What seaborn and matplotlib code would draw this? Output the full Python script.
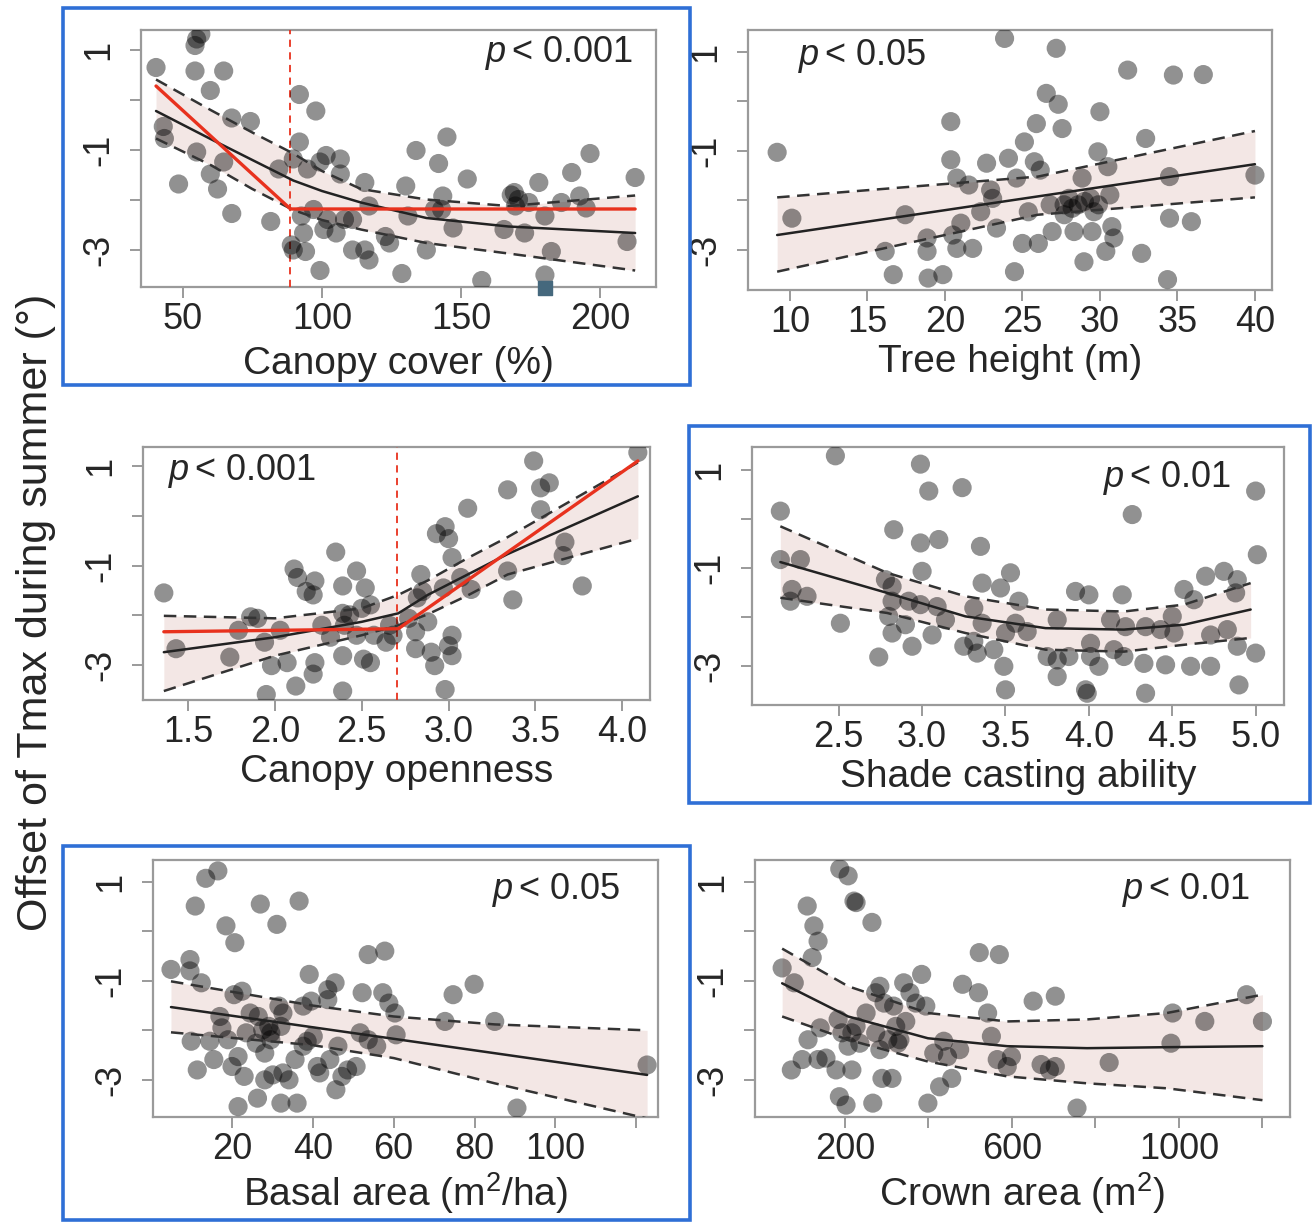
import numpy as np
import pandas as pd
import matplotlib
matplotlib.use("Agg")
import matplotlib.pyplot as plt
from matplotlib.patches import Rectangle
import seaborn as sns

sns.set_style("white")
plt.rcParams['font.family'] = ['Liberation Sans', 'DejaVu Sans']
plt.rcParams['mathtext.fontset'] = 'custom'
plt.rcParams['mathtext.rm'] = 'Liberation Sans'
plt.rcParams['mathtext.it'] = 'Liberation Sans:italic'

# ---------------- data ----------------
# Panel 1: canopy cover
cc_x = [40.4, 55, 56.5, 54.4, 54.4, 64.7, 59.9, 43, 43.4, 67.6, 74.3, 55, 64.7, 48.5, 59.9,
        62.5, 67.6, 81.6, 84.5, 91.9, 97.8, 91.9, 89.7, 94.8, 99.3, 101.5, 106.6, 106.6, 115.4,
        92.6, 97, 93.4, 89, 89.7, 94.1, 99.3, 100.7, 105.1, 111, 111, 115.4, 116.9, 116.9, 122.8,
        124.3, 128.7, 130.1, 130.9, 133.8, 137.5, 143.4, 140.4, 141.9, 144.9, 147.1, 152.2, 157.4,
        165.4, 169.1, 170.6, 172.8, 174.3, 177.9, 180.1, 182.4, 180.1, 186, 189.7, 192.6, 194.9,
        196.3, 212.5, 209.6, 168, 169.5, 108.1, 102, 143]
cc_y = [0.65, 1.22, 1.32, 1.09, 0.58, 0.58, 0.19, -0.53, -0.77, -0.36, -0.43, -1.04, -1.24, -1.68,
        -1.48, -1.78, -2.27, -2.43, -1.38, 0.11, -0.22, -0.84, -1.18, -1.38, -1.24, -1.11, -1.18,
        -1.48, -1.65, -2.32, -2.19, -2.66, -2.9, -3.0, -3.03, -3.41, -2.59, -2.66, -2.39, -3.0, -3.0,
        -3.2, -2.12, -2.73, -2.86, -3.47, -1.72, -2.32, -1.01, -3.0, -1.92, -2.19, -1.27, -0.74,
        -2.56, -1.58, -3.61, -2.59, -1.85, -1.99, -2.66, -2.05, -1.65, -2.32, -3.03, -3.5, -2.05,
        -1.45, -1.92, -2.16, -1.07, -1.55, -2.83, -1.9, -2.12, -2.39, -2.39, -2.19]
cc_fit_x = [40.4, 60, 75, 89.7, 100, 114, 137.5, 167, 212.5]
cc_fit_y = [-0.22, -0.78, -1.2, -1.61, -1.82, -2.05, -2.36, -2.53, -2.66]
cc_hi_y = [0.41, -0.2, -0.65, -1.07, -1.42, -1.78, -1.99, -2.12, -1.91]
cc_lo_y = [-0.77, -1.3, -1.78, -2.2, -2.4, -2.59, -2.86, -3.07, -3.41]
cc_seg_x = [40.4, 88.7, 212.5]
cc_seg_y = [0.28, -2.18, -2.18]
cc_break = 88.7

# Panel 2: tree height
th_x = [9.18, 10.13, 16.15, 16.67, 17.44, 18.85, 18.85, 18.92, 19.87, 20.38, 20.38, 20.77, 21.03,
        20.51, 20.77, 21.79, 21.54, 22.69, 22.95, 23.08, 22.31, 23.33, 23.85, 24.1, 24.62, 24.49,
        25, 25.13, 25.38, 25.9, 25.77, 26.15, 26.03, 26.54, 26.92, 26.79, 27.18, 27.31, 27.56,
        27.69, 28.21, 28.33, 28.85, 28.59, 28.97, 29.49, 29.62, 29.87, 30, 30.38, 30.51, 30.64,
        30.77, 30.9, 31.79, 32.69, 32.95, 34.49, 34.49, 34.36, 34.74, 35.9, 36.67, 40, 29.4, 29.9,
        27.7, 28.0, 29.0]
th_y = [-1.03, -2.36, -3.03, -3.5, -2.29, -2.76, -3.03, -3.57, -3.5, -0.41, -1.18, -1.55, -2.46,
        -2.7, -2.97, -2.97, -1.69, -1.25, -1.79, -1.96, -2.23, -2.56, 1.27, -1.15, -1.55, -3.44,
        -2.87, -0.82, -2.23, -0.45, -1.22, -1.39, -2.87, 0.16, -2.63, -2.09, 1.07, -0.06, -0.55,
        -2.09, -2.16, -2.63, -1.55, -2.09, -3.24, -2.63, -2.23, -1.02, -0.21, -3.03, -1.32, -1.89,
        -2.53, -2.76, 0.63, -3.07, -0.75, -1.52, -2.36, -3.6, 0.53, -2.43, 0.54, -1.49, -1.96,
        -2.09, -2.29, -1.96, -2.02]
th_fit_x = [9.18, 26, 40]
th_fit_y = [-2.7, -1.92, -1.27]
th_hi_y = [-1.94, -1.52, -0.6]
th_lo_y = [-3.44, -2.29, -1.94]

# Panel 3: canopy openness
co_x = [1.36, 1.43, 1.74, 1.79, 1.86, 1.9, 1.94, 1.95, 1.98, 2.03, 2.07, 2.11, 2.13, 2.12, 2.18,
        2.22, 2.23, 2.23, 2.22, 2.27, 2.32, 2.35, 2.39, 2.39, 2.4, 2.39, 2.39, 2.43, 2.47, 2.5,
        2.52, 2.55, 2.51, 2.55, 2.57, 2.64, 2.68, 2.81, 2.82, 2.84, 2.85, 2.88, 2.9, 2.92, 2.93,
        2.98, 3.0, 3.02, 3.0, 3.02, 2.98, 3.02, 2.97, 3.07, 3.11, 3.13, 3.34, 3.34, 3.37, 3.49,
        3.53, 3.58, 3.53, 3.67, 3.66, 3.77, 4.09, 2.77, 2.81, 2.47, 2.66]
co_y = [-1.55, -2.67, -2.84, -2.3, -2.03, -2.06, -2.54, -3.59, -3.01, -2.3, -2.95, -1.07, -1.24,
        -3.42, -1.52, -1.59, -1.31, -2.95, -3.18, -2.2, -2.44, -0.73, -1.41, -1.96, -2.2, -2.81,
        -3.52, -1.99, -1.11, -1.86, -1.45, -1.79, -2.88, -2.95, -2.4, -2.54, -2.4, -2.67, -1.65,
        -1.18, -1.52, -2.13, -2.74, -3.01, -0.36, -0.22, -0.46, -2.4, -2.61, -2.81, -3.49, -0.84,
        -1.45, -1.24, 0.15, -1.48, 0.52, -1.11, -1.69, 1.1, 0.56, 0.66, 0.12, -0.53, -0.8, -1.41,
        1.27, -2.06, -2.33, -2.4, -2.2]
co_fit_x = [1.36, 2.0, 2.5, 2.71, 2.88, 3.11, 3.34, 4.09]
co_fit_y = [-2.74, -2.44, -2.13, -1.96, -1.59, -1.18, -0.77, 0.39]
co_hi_y = [-2.01, -2.06, -1.86, -1.59, -1.3, -0.85, -0.43, 1.07]
co_lo_y = [-3.52, -2.81, -2.4, -2.2, -1.98, -1.6, -1.18, -0.46]
co_seg_x = [1.36, 2.71, 4.09]
co_seg_y = [-2.33, -2.27, 1.1]
co_break = 2.70

# Panel 4: shade casting ability
sc_x = [2.15, 2.15, 2.22, 2.21, 2.27, 2.31, 2.48, 2.51, 2.74, 2.78, 2.82, 2.8, 2.82, 2.82, 2.83,
        2.9, 2.94, 2.92, 2.99, 3.0, 2.99, 2.99, 3.04, 3.06, 3.1, 3.09, 3.14, 3.24, 3.25, 3.31,
        3.31, 3.33, 3.35, 3.36, 3.36, 3.43, 3.47, 3.49, 3.5, 3.5, 3.53, 3.56, 3.58, 3.63, 3.75,
        3.81, 3.81, 3.81, 3.88, 3.92, 3.98, 3.99, 4.0, 4.01, 4.01, 4.06, 4.13, 4.15, 4.2, 4.22,
        4.21, 4.26, 4.34, 4.33, 4.34, 4.43, 4.46, 4.5, 4.51, 4.57, 4.61, 4.63, 4.7, 4.73, 4.73,
        4.81, 4.83, 4.89, 4.88, 4.89, 4.9, 5.0, 5.01, 5.0]
sc_y = [0.16, -0.83, -1.44, -1.68, -0.83, -1.58, 1.29, -2.13, -2.82, -1.24, -1.38, -1.99, -2.33,
        -1.68, -0.22, -2.16, -2.6, -1.68, 1.12, -1.07, -0.49, -1.75, 0.57, -2.37, -0.42, -1.79,
        -2.06, 0.64, -2.6, -2.5, -1.82, -2.74, -0.56, -1.31, -2.13, -2.67, -1.41, -3.01, -3.49,
        -2.33, -1.1, -2.13, -1.68, -2.3, -2.81, -2.06, -2.88, -3.22, -2.81, -1.48, -3.49, -3.56,
        -1.55, -2.54, -2.81, -3.01, -2.06, -2.67, -1.55, -2.2, -2.81, 0.09, -2.2, -2.95, -3.56,
        -2.26, -2.98, -1.99, -2.33, -1.44, -3.01, -1.65, -1.17, -3.01, -2.37, -1.07, -2.26, -1.24,
        -1.51, -2.6, -3.39, 0.57, -0.73, -2.74]
sc_fit_x = [2.15, 2.79, 3.26, 3.74, 4.21, 4.57, 4.97]
sc_fit_y = [-0.88, -1.51, -1.99, -2.23, -2.26, -2.16, -1.85]
sc_hi_y = [-0.15, -1.1, -1.58, -1.85, -1.89, -1.75, -1.31]
sc_lo_y = [-1.61, -1.92, -2.33, -2.67, -2.71, -2.57, -2.43]

# Panel 5: basal area
ba_x = [4.9, 9.6, 9.6, 10.9, 11.4, 12.4, 9.9, 13.5, 14.5, 16.5, 17, 17.5, 15.5, 18.5, 20.7, 20.5,
        19, 20, 21.5, 22.5, 21.5, 23, 24.5, 26, 26.5, 26.3, 27, 27.6, 28.1, 28.1, 29.1, 29.6, 30.1,
        31.1, 31.6, 32.1, 32.1, 32.6, 34.1, 35.6, 36.1, 36.6, 37.6, 38.6, 39.1, 39.6, 40.1, 41.1,
        41.7, 43.7, 43.7, 44.2, 45.5, 46.2, 45.7, 47.2, 50.7, 52.2, 51.7, 53.7, 53.7, 55.8, 57.3,
        57.8, 58.8, 60.3, 60.6, 72.7, 74.7, 79.9, 85, 90.5, 122.7, 23.5, 29.6, 32.6, 37.6, 48.6]
ba_y = [-0.77, -0.57, -0.8, 0.51, -2.8, -1.04, -2.22, 1.07, -2.22, 1.22, -1.72, -1.95, -2.59,
        0.11, -0.23, -1.28, -2.19, -2.73, -3.54, -1.21, -2.53, -2.93, -1.65, -2.26, -1.72, -3.37,
        0.55, -1.99, -2.46, -3.0, -1.92, -2.19, -2.9, 0.14, -1.51, -1.92, -3.47, -2.86, -3.0,
        -2.59, -3.47, 0.61, -1.51, -2.22, -0.87, -1.41, -2.12, -2.73, -2.86, -1.18, -1.38, -2.59,
        -1.04, -2.32, -3.2, -2.93, -2.73, -1.24, -2.05, -0.47, -2.19, -2.32, -1.24, -0.4, -1.45,
        -1.65, -2.09, -1.82, -1.28, -1.07, -1.82, -3.57, -2.7, -2.05, -2.05, -1.65, -2.32, -2.8]
ba_fit_x = [4.9, 122.7]
ba_fit_y = [-1.53, -2.9]
ba_band_x = [4.9, 40, 60, 85, 122.7]
ba_hi_y = [-1.01, -1.5, -1.72, -1.88, -2.0]
ba_lo_y = [-2.04, -2.3, -2.56, -3.07, -3.78]

# Panel 6: crown area
ca_x = [50, 72, 79, 98, 110, 112, 126, 136, 122, 136, 141, 155, 184, 179, 188, 193, 187, 203,
        208, 208, 217, 222, 227, 227, 236, 251, 265, 267, 274, 284, 274, 284, 289, 294, 313, 317,
        322, 327, 341, 346, 356, 370, 384, 394, 399, 413, 427, 437, 446, 456, 475, 482, 520, 522,
        542, 551, 570, 565, 589, 599, 651, 670, 690, 704, 704, 756, 833, 981, 985, 1062, 1162,
        1200, 332, 217, 303]
ca_y = [-0.74, -2.8, -1.04, -2.59, 0.51, -2.19, 0.11, -0.2, -0.53, -2.59, -1.95, -2.56, -1.78,
        -2.8, 1.26, -2.05, -3.34, -3.51, 1.12, -2.32, -2.8, 0.61, 0.58, -1.92, -2.26, -1.65, 0.18,
        -3.47, -1.24, -1.11, -2.05, -2.39, -2.97, -1.45, -2.97, -1.51, -1.92, -2.26, -1.04, -1.82,
        -1.24, -1.45, -0.87, -1.51, -3.47, -2.46, -3.14, -2.22, -2.53, -2.97, -2.39, -1.07, -1.24,
        -0.43, -1.65, -2.12, -0.47, -2.59, -2.73, -2.53, -1.41, -2.69, -2.8, -1.31, -2.73, -3.57,
        -2.65, -2.26, -1.65, -1.82, -1.28, -1.82, -2.19, -2.05, -2.19]
ca_fit_x = [50, 208, 399, 589, 780, 971, 1200]
ca_fit_y = [-1.05, -1.72, -2.16, -2.32, -2.36, -2.34, -2.32]
ca_hi_y = [-0.35, -1.11, -1.65, -1.82, -1.78, -1.65, -1.28]
ca_lo_y = [-1.72, -2.19, -2.63, -2.93, -3.07, -3.17, -3.41]

artifact_x = [180]
artifact_y = [-3.75]

# ---------------- figure ----------------
W, H = 1312, 1223
fig = plt.figure(figsize=(W / 100, H / 100), dpi=100)

GRAY = '#9a9a9a'
BAND = '#f3e7e5'
BLUE = '#2f6fd6'
DASH = (0, (5, 3))

TICK_FS = 26
LABEL_FS = 28
P_FS = 26


def px_axes(l, r, t, b):
    return fig.add_axes([l / W, 1 - b / H, (r - l) / W, (b - t) / H])


def style(ax, xlim, ylim, xticks, xlabels, xlabel, labelpad):
    ax.set_xlim(*xlim)
    ax.set_ylim(*ylim)
    for s in ax.spines.values():
        s.set_color(GRAY)
        s.set_linewidth(1.6)
    ax.set_xticks(xticks)
    ax.set_xticklabels(xlabels)
    ax.set_yticks([1, 0, -1, -2, -3])
    ax.set_yticklabels(['1', '', '-1', '', '-3'], rotation=90, va='center')
    ax.tick_params(axis='both', direction='out', length=8, width=1.4, color=GRAY,
                   labelsize=TICK_FS, pad=3, left=True, bottom=True)
    ax.tick_params(axis='y', pad=10)
    ax.set_xlabel(xlabel, fontsize=LABEL_FS, labelpad=labelpad)
    ax.set_ylabel('')


def draw(ax, x, y):
    df = pd.DataFrame({'x': x, 'y': y})
    sns.scatterplot(data=df, x='x', y='y', ax=ax, color='black', alpha=0.43, s=190,
                    edgecolor='none', linewidth=0, zorder=4)


def band(ax, bx, lo, hi, fx, fy):
    ax.fill_between(bx, lo, hi, color=BAND, zorder=1, linewidth=0)
    ax.plot(bx, hi, color='#333333', ls=DASH, lw=1.8, zorder=5)
    ax.plot(bx, lo, color='#333333', ls=DASH, lw=1.8, zorder=5)
    ax.plot(fx, fy, color='#222222', lw=1.8, zorder=5)


def ptext(ax, xf, yf, txt, ha):
    ax.text(xf, yf, r'$p$' + '$\\,$< ' + txt, transform=ax.transAxes, fontsize=P_FS,
            ha=ha, va='center', zorder=6)


# Panel 1
ax1 = px_axes(141, 656, 30, 287)
band(ax1, cc_fit_x, cc_lo_y, cc_hi_y, cc_fit_x, cc_fit_y)
draw(ax1, cc_x, cc_y)
ax1.plot(cc_seg_x, cc_seg_y, color='#e8321e', lw=2.4, zorder=6)
ax1.axvline(cc_break, color='#e8321e', ls=(0, (4, 3)), lw=1.3, zorder=3)
ax1.scatter(artifact_x, artifact_y, marker='s', s=110, color='#45687d', zorder=7, clip_on=False)
style(ax1, (35, 220), (-3.74, 1.4), [50, 100, 150, 200], ['50', '100', '150', '200'],
      'Canopy cover (%)', 6)
ptext(ax1, 0.955, 0.91, '0.001', 'right')

# Panel 2
ax2 = px_axes(748, 1272, 30, 290)
band(ax2, th_fit_x, th_lo_y, th_hi_y, th_fit_x, th_fit_y)
draw(ax2, th_x, th_y)
style(ax2, (7.3, 41.1), (-3.81, 1.44), [10, 15, 20, 25, 30, 35, 40],
      ['10', '15', '20', '25', '30', '35', '40'], 'Tree height (m)', 3)
ptext(ax2, 0.095, 0.9, '0.05', 'left')

# Panel 3
ax3 = px_axes(143, 650, 447, 700)
band(ax3, co_fit_x, co_lo_y, co_hi_y, co_fit_x, co_fit_y)
draw(ax3, co_x, co_y)
ax3.plot(co_seg_x, co_seg_y, color='#e8321e', lw=2.4, zorder=6)
ax3.axvline(co_break, color='#e8321e', ls=(0, (4, 3)), lw=1.3, zorder=3)
style(ax3, (1.24, 4.16), (-3.70, 1.38), [1.5, 2.0, 2.5, 3.0, 3.5, 4.0],
      ['1.5', '2.0', '2.5', '3.0', '3.5', '4.0'], 'Canopy openness', 3)
ptext(ax3, 0.05, 0.905, '0.001', 'left')

# Panel 4
ax4 = px_axes(752, 1284, 447, 705)
band(ax4, sc_fit_x, sc_lo_y, sc_hi_y, sc_fit_x, sc_fit_y)
draw(ax4, sc_x, sc_y)
style(ax4, (1.98, 5.17), (-3.80, 1.47), [2.5, 3.0, 3.5, 4.0, 4.5, 5.0],
      ['2.5', '3.0', '3.5', '4.0', '4.5', '5.0'], 'Shade casting ability', 3)
ptext(ax4, 0.9, 0.88, '0.01', 'right')

# Panel 5
ax5 = px_axes(153, 658, 860, 1117)
ax5.fill_between(ba_band_x, ba_lo_y, ba_hi_y, color=BAND, zorder=1, linewidth=0)
ax5.plot(ba_band_x, ba_hi_y, color='#333333', ls=DASH, lw=1.8, zorder=5)
ax5.plot(ba_band_x, ba_lo_y, color='#333333', ls=DASH, lw=1.8, zorder=5)
ax5.plot(ba_fit_x, ba_fit_y, color='#222222', lw=1.8, zorder=5)
draw(ax5, ba_x, ba_y)
style(ax5, (0.45, 125.4), (-3.75, 1.44), [20, 40, 60, 80, 100, 120],
      ['20', '40', '60', '80', '100', ''], r'Basal area (m$^2$/ha)', 2)
ptext(ax5, 0.925, 0.883, '0.05', 'right')

# Panel 6
ax6 = px_axes(755, 1290, 860, 1117)
band(ax6, ca_fit_x, ca_lo_y, ca_hi_y, ca_fit_x, ca_fit_y)
draw(ax6, ca_x, ca_y)
style(ax6, (-15, 1266), (-3.75, 1.44), [200, 400, 600, 800, 1000, 1200],
      ['200', '', '600', '', '1000', ''], r'Crown area (m$^2$)', 2)
ptext(ax6, 0.925, 0.883, '0.01', 'right')

# Shared y label
fig.text(36 / W, 1 - 612 / H, 'Offset of Tmax during summer (°)', rotation=90,
         ha='center', va='center', fontsize=31)

# Blue highlight frames
for (l, r, t, b) in [(63, 690, 8, 385), (689, 1310, 426, 803), (63, 690, 846, 1220)]:
    fig.patches.append(Rectangle((l / W, 1 - b / H), (r - l) / W, (b - t) / H,
                                 transform=fig.transFigure, fill=False, edgecolor=BLUE,
                                 linewidth=2.6, zorder=10))

fig.savefig('out.png', dpi=100)
